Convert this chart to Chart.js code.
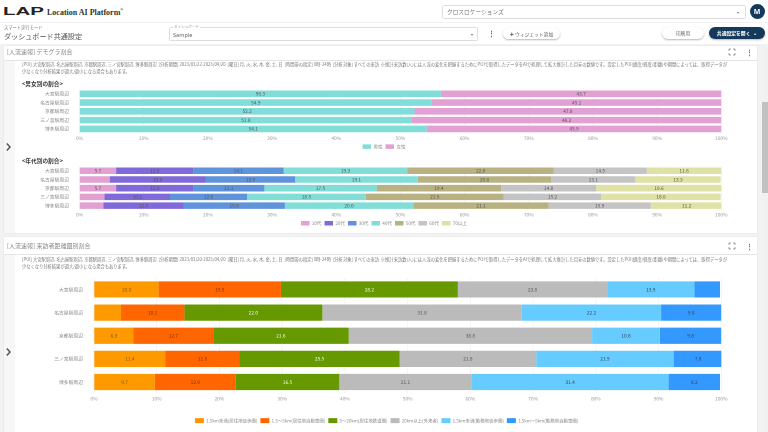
<!DOCTYPE html>
<html lang="ja"><head><meta charset="utf-8">
<script src="https://cdn.jsdelivr.net/npm/chart.js@4"></script>
<style>
html,body{margin:0;padding:0;width:768px;height:432px;overflow:hidden;background:#f2f2f2;font-family:"Noto Sans CJK JP","Noto Sans",sans-serif;color:#666}
#page{position:absolute;left:0;top:0;width:768px;height:432px;filter:blur(.45px);overflow:hidden}
.a{position:absolute;white-space:nowrap;line-height:1}
.box{position:absolute;background:#fff}
canvas{position:absolute;left:0}
svg{position:absolute;overflow:visible}
.sel{border:1px solid #ddd;border-radius:1.5px;box-sizing:border-box;background:#fff}
.pill{position:absolute;border-radius:7px;background:#fff;box-shadow:0 1px 2px rgba(0,0,0,.28);text-align:center;box-sizing:border-box}
</style></head><body>
<div id="page">
<div class="box" style="left:0;top:0;width:768px;height:21.5px"></div>
<div class="a" style="left:3px;top:4.5px;font:bold 11.5px 'Liberation Sans';color:#222;transform-origin:0 0;transform:scaleX(1.78)">LAP</div>
<div class="a" style="left:47px;top:7px;font:bold 8px 'Liberation Serif';color:#333">Location AI Platform<sup style="font-size:4px">®</sup></div>
<div class="box sel" style="left:442px;top:5px;width:304px;height:13.5px"></div>
<div class="a" style="left:447px;top:8.5px;font-size:5.7px;color:#777">クロスロケーションズ</div>
<div class="a" style="left:737px;top:10px;font-size:4px;color:#777">▾</div>
<div class="a" style="left:749.5px;top:3.5px;width:15px;height:15px;border-radius:50%;background:#14395a;color:#fff;font:bold 7px/15px 'Noto Sans';text-align:center">M</div>
<div class="box" style="left:0;top:23px;width:768px;height:21px"></div>
<div class="a" style="left:4px;top:25px;font-size:4.3px;color:#777">スマート実行モード</div>
<div class="a" style="left:4px;top:33px;font-size:7.1px;color:#555">ダッシュボード共通設定</div>
<div class="box sel" style="left:169px;top:26.5px;width:309px;height:14.5px"></div>
<div class="a" style="left:173px;top:24.5px;font-size:3.6px;color:#999;background:#fff;padding:0 1px">ダッシュボード</div>
<div class="a" style="left:173px;top:31px;font:5.6px 'Noto Sans';color:#666">Sample</div>
<div class="a" style="left:471px;top:31.5px;font-size:4px;color:#777">▾</div>
<div class="a" style="left:487.5px;top:28.5px;font:bold 7px 'Noto Sans';color:#666">⋮</div>
<div class="pill" style="left:503px;top:27.5px;width:57px;height:11.5px;font-size:4.8px;line-height:11.5px;color:#555"><b style="font-size:7px;vertical-align:-1px">+</b> ウィジェット追加</div>
<div class="pill" style="left:662px;top:27px;width:42px;height:12px;font-size:4.8px;line-height:12px;color:#666">印刷用</div>
<div class="pill" style="left:709px;top:27px;width:55.5px;height:12px;font-size:4.8px;line-height:12px;color:#fff;background:#14395a;font-weight:700">共通設定を開く &nbsp;⌄</div>

<div class="box" style="left:4px;top:45.5px;width:753px;height:187.5px;box-shadow:0 0 1px rgba(0,0,0,.15)"></div>
<div class="box" style="left:4px;top:60px;width:753px;height:.7px;background:#e4e4e4"></div>
<div class="box" style="left:4px;top:60.5px;width:10.7px;height:172.5px;background:#f7f7f7"></div>
<div class="a" style="left:7px;top:49px;font-size:6px;color:#888">[人流速報] デモグラ割合</div>
<div class="a" style="left:22px;top:62px;font-size:4.28px;color:#777">[POI] 大宮駅周辺, 名古屋駅周辺, 京都駅周辺, 三ノ宮駅周辺, 博多駅周辺 &nbsp;[分析期間] 2023/03/22-2023/04/20 &nbsp;[曜日] 月, 火, 水, 木, 金, 土, 日 &nbsp;[時間帯の指定] 0時-24時 &nbsp;[分析対象] すべての来訪 &nbsp;※推計来訪数(人)には人流の変化を把握するためにPOIで取得したデータをAIで処理して拡大推計した目安の数値です。設定したPOI(緯度/経度/距離)や期間によっては、取得データが</div>
<div class="a" style="left:22px;top:69px;font-size:4.28px;color:#777">少なくなり分析結果が過大/過小になる場合もあります。</div>
<div class="a" style="left:22px;top:81px;font-size:5.7px;color:#333;font-weight:700">&lt;男女別の割合&gt;</div>
<div class="a" style="left:22px;top:158px;font-size:5.7px;color:#333;font-weight:700">&lt;年代別の割合&gt;</div>
<svg style="left:6px;top:143px" width="5" height="8"><path d="M.8 .6 L4 4 L.8 7.4" fill="none" stroke="#555" stroke-width="1.5"/></svg>
<svg style="left:729px;top:48.5px" width="6" height="6"><path d="M0 1.8V0H1.8M4.2 0H6V1.8M6 4.2V6H4.2M1.8 6H0V4.2" fill="none" stroke="#666" stroke-width=".7"/></svg>
<div class="a" style="left:746px;top:47.5px;font:bold 7px 'Noto Sans';color:#777">⋮</div>

<div class="box" style="left:4px;top:237px;width:753px;height:195px;box-shadow:0 0 1px rgba(0,0,0,.15)"></div>
<div class="box" style="left:4px;top:254px;width:753px;height:.7px;background:#e4e4e4"></div>
<div class="box" style="left:4px;top:254.5px;width:10.7px;height:178px;background:#f7f7f7"></div>
<div class="a" style="left:7px;top:242.5px;font-size:6px;color:#888">[人流速報] 来訪者距離圏別割合</div>
<div class="a" style="left:22px;top:257px;font-size:4.28px;color:#777">[POI] 大宮駅周辺, 名古屋駅周辺, 京都駅周辺, 三ノ宮駅周辺, 博多駅周辺 &nbsp;[分析期間] 2023/03/20-2023/04/20 &nbsp;[曜日] 月, 火, 水, 木, 金, 土, 日 &nbsp;[時間帯の指定] 0時-24時 &nbsp;[分析対象] すべての来訪 &nbsp;※推計来訪数(人)には人流の変化を把握するためにPOIで取得したデータをAIで処理して拡大推計した目安の数値です。設定したPOI(緯度/経度/距離)や期間によっては、取得データが</div>
<div class="a" style="left:22px;top:264px;font-size:4.28px;color:#777">少なくなり分析結果が過大/過小になる場合もあります。</div>
<svg style="left:6px;top:348px" width="5" height="8"><path d="M.8 .6 L4 4 L.8 7.4" fill="none" stroke="#555" stroke-width="1.5"/></svg>
<svg style="left:729px;top:243px" width="6" height="6"><path d="M0 1.8V0H1.8M4.2 0H6V1.8M6 4.2V6H4.2M1.8 6H0V4.2" fill="none" stroke="#666" stroke-width=".7"/></svg>
<div class="a" style="left:746px;top:242px;font:bold 7px 'Noto Sans';color:#777">⋮</div>

<div class="box" style="left:762px;top:45px;width:6px;height:387px;background:#f1f1f1"></div>
<div class="box" style="left:762px;top:102px;width:6px;height:91px;background:#c1c1c1"></div>

<canvas id="c1" style="top:84px;width:768px;height:68px"></canvas>
<canvas id="c2" style="top:161px;width:768px;height:68px"></canvas>
<canvas id="c3" style="top:272px;width:768px;height:156px"></canvas>
</div>
<script>
const stations = ["大宮駅周辺","名古屋駅周辺","京都駅周辺","三ノ宮駅周辺","博多駅周辺"];
const percentTicks = [0,10,20,30,40,50,60,70,80,90,100];

const genderNames = ["男性","女性"];
const male   = [56.3,54.9,52.2,51.8,54.1];
const female = [43.7,45.1,47.8,48.2,45.9];
const genderColors = ["#80DDD8","#E3A0D3"];

const ageNames = ["10代","20代","30代","40代","50代","60代","70以上"];
const age10 = [5.7,4.7,5.7,3.9,3.7];
const age20 = [12.0,15.0,12.0,10.2,12.5];
const age30 = [14.1,13.9,11.1,12.0,15.8];
const age40 = [19.3,19.1,17.5,18.5,20.0];
const age50 = [22.8,20.8,19.4,21.5,21.1];
const age60 = [14.5,13.1,14.8,15.2,15.9];
const age70 = [11.6,13.3,19.6,18.6,11.2];
const ageColors = ["#E3A0D3","#8069D8","#5F93DC","#80DDD8","#B8B283","#C4C4C4","#DFE2A4"];

const distNames = ["1.5km未満(居住地徒歩圏)","1.5～5km(居住地自動車圏)","5～20km(居住地鉄道圏)","20km以上(外来者)","1.5km未満(勤務地徒歩圏)","1.5km～5km(勤務地自動車圏)"];
const dist1 = [10.3,4.3,6.3,11.4,9.7];
const dist2 = [19.5,10.1,12.7,11.8,12.9];
const dist3 = [28.2,22.0,21.6,25.5,16.5];
const dist4 = [23.8,31.8,38.8,21.8,21.1];
const dist5 = [13.9,22.2,10.8,21.9,31.4];
const dist6 = [4.1,9.6,9.8,7.8,8.2];
const distColors = ["#FF9900","#FF6600","#669900","#BBBBBB","#66CCFF","#3399FF"];

const FONT = '"Noto Sans CJK JP","Noto Sans",sans-serif';
const labelPlugin = {
  id:"barLabels",
  beforeLayout(chart,args,opts){
    const lg = chart.legend;
    if(!lg._wrapped){
      const fit = lg.fit;
      lg.fit = function(){ fit.call(this); this.height = opts.legH; };
      lg._wrapped = true;
    }
  },
  afterLayout(chart,args,opts){
    chart.legend.left += opts.shift; chart.legend.right += opts.shift;
  },
  afterDatasetsDraw(chart,args,opts){
    const c = chart.ctx;
    c.save(); c.textAlign="center"; c.textBaseline="middle";
    c.font = opts.size+"px "+FONT;
    chart.data.datasets.forEach((d,i)=>{
      chart.getDatasetMeta(i).data.forEach((bar,j)=>{
        if(d.data[j] < opts.min) return;
        const p = bar.getProps(["x","base","y"],true);
        c.fillStyle = opts.colors[i] || "#555";
        c.fillText(d.data[j].toFixed(1),(p.x+p.base)/2,p.y);
      });
    });
    c.restore();
  }
};
function make(id,names,series,colors,o){
  new Chart(document.getElementById(id),{
    type:"bar",
    data:{labels:stations,datasets:series.map((s,i)=>({label:names[i],data:s,backgroundColor:colors[i],borderWidth:0,barPercentage:o.bar,categoryPercentage:1}))},
    plugins:[labelPlugin],
    options:{
      indexAxis:"y",responsive:false,animation:false,devicePixelRatio:2,
      layout:{padding:{top:o.top,right:46.7,left:0,bottom:o.bottom}},
      plugins:{
        tooltip:{enabled:false},
        legend:{position:"bottom",labels:{boxWidth:o.boxW,boxHeight:o.boxH,padding:o.legPad,color:"#888",font:{size:o.legSize,family:FONT}}},
        barLabels:{size:o.valSize,min:o.minLabel,colors:o.valColors,legH:o.legH,shift:o.shift}
      },
      scales:{
        x:{stacked:true,min:0,max:100,
          afterBuildTicks(s){s.ticks=percentTicks.map(v=>({value:v}));},
          afterFit(s){s.height=o.xH;},
          grid:{color:"#eeeeee",lineWidth:.6,drawTicks:false},border:{display:false},
          ticks:{padding:o.tickPad,maxRotation:0,autoSkip:false,color:"#999",font:{size:o.tickSize,family:FONT},callback:v=>v+"%"}},
        y:{stacked:true,
          afterFit(s){s.width=o.yW;},
          grid:{display:false},border:{display:false},
          ticks:{padding:o.yPad,autoSkip:false,color:"#888",font:{size:o.tickSize,family:FONT}}}
      }
    }
  });
}
const small = {bar:.75,boxW:8.5,boxH:4.5,legPad:3,legSize:4.6,valSize:4.8,tickSize:4.8,minLabel:5,tickPad:2,yPad:2.5,yW:79.5,xH:8,legH:10.7,shift:23.4,valColors:[]};
make("c1",genderNames,[male,female],genderColors,{...small,top:3,bottom:0});
make("c2",ageNames,[age10,age20,age30,age40,age50,age60,age70],ageColors,{...small,top:2.7,bottom:.3});
make("c3",distNames,[dist1,dist2,dist3,dist4,dist5,dist6],distColors,{bar:.7,boxW:9,boxH:5,legPad:3,legSize:4.45,valSize:4.8,tickSize:4.8,minLabel:5,tickPad:2,yPad:3,yW:94,xH:21.5,legH:12.9,top:5.4,bottom:0,shift:26,valColors:["#775500","#773300","#ffffff","#555","#345","#345"]});
</script>
</body></html>
